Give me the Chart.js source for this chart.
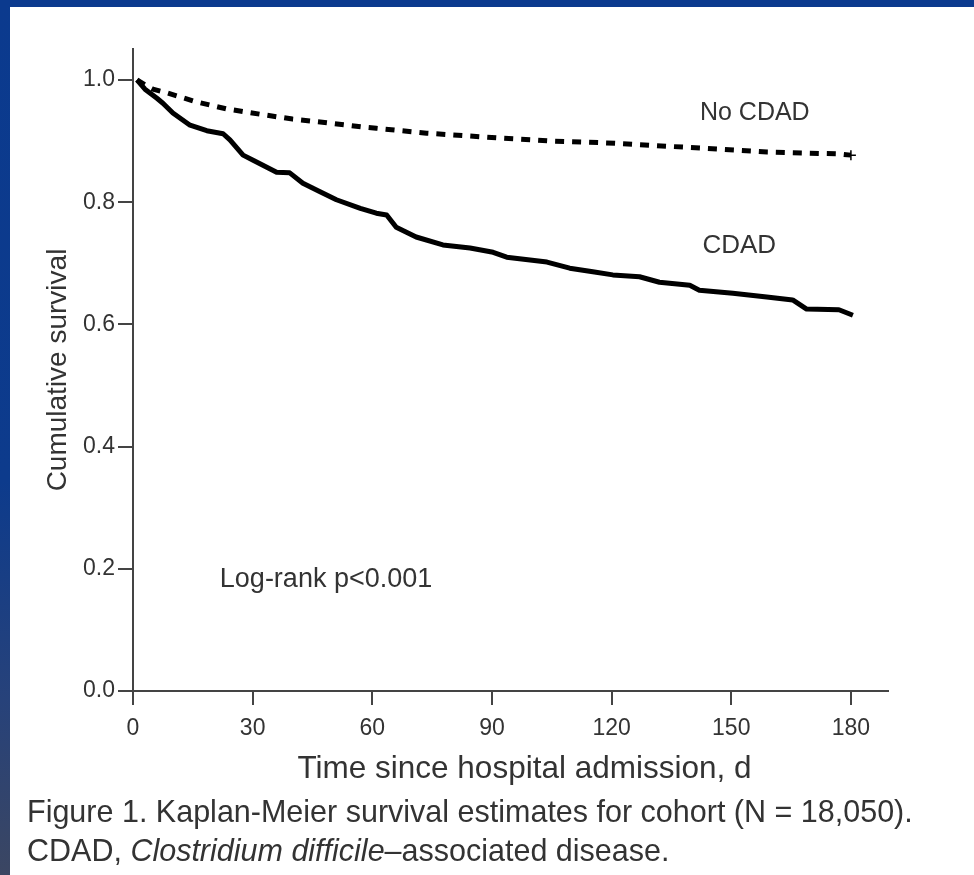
<!DOCTYPE html>
<html><head><meta charset="utf-8">
<script src="https://cdn.jsdelivr.net/npm/chart.js@4.4.1/dist/chart.umd.min.js"></script>
<style>
html,body{margin:0;padding:0;}
body{width:974px;height:875px;overflow:hidden;position:relative;background:linear-gradient(to bottom,#0b3a8e 0%,#0d3b8c 55%,#27427a 80%,#3b4662 100%);font-family:"Liberation Sans",Arial,sans-serif;}
#panel{position:absolute;left:10px;top:7px;right:0;bottom:0;background:#fff;}
#c{position:absolute;left:0;top:0;}
#caption{position:absolute;left:27px;top:792px;font-size:30.5px;line-height:39px;color:#333;white-space:nowrap;}
</style></head>
<body>
<div id="panel"></div>
<canvas id="c" width="974" height="875"></canvas>
<div id="caption">Figure 1. Kaplan-Meier survival estimates for cohort (N = 18,050).<br>CDAD, <i>Clostridium difficile</i>–associated disease.</div>
<script>
// Data (days since admission, cumulative survival)
const cdadDays = [1, 3, 6, 7.5, 10, 14.3, 18.5, 22.6, 24.3, 27.6, 30, 36, 39.3, 42.6, 46.9, 51, 57, 61, 63.6, 66, 71, 77.7, 84.5, 90.3, 93.7, 103.8, 109.5, 115.3, 120.3, 127, 132, 139.6, 142, 150.4, 158.9, 165.4, 168.9, 177, 180.5];
const cdadSurv = [1.0, 0.985, 0.970, 0.962, 0.946, 0.926, 0.917, 0.912, 0.902, 0.877, 0.869, 0.849, 0.848, 0.831, 0.817, 0.804, 0.790, 0.782, 0.779, 0.759, 0.743, 0.730, 0.725, 0.718, 0.710, 0.702, 0.692, 0.686, 0.681, 0.678, 0.669, 0.664, 0.656, 0.651, 0.645, 0.640, 0.625, 0.624, 0.615];
const noCdadDays = [1, 3, 5, 8.5, 16, 23.6, 31.8, 40, 48.6, 57.6, 61, 73.6, 92, 105, 118.8, 141, 159, 177, 180];
const noCdadSurv = [1.0, 0.992, 0.985, 0.979, 0.964, 0.9525, 0.944, 0.936, 0.930, 0.923, 0.921, 0.913, 0.905, 0.900, 0.897, 0.889, 0.882, 0.879, 0.877];
const xTickValues = [0, 30, 60, 90, 120, 150, 180];
const xTickLabels = ['0', '30', '60', '90', '120', '150', '180'];
const yTickValues = [0, 0.2, 0.4, 0.6, 0.8, 1.0];
const yTickLabels = ['0.0', '0.2', '0.4', '0.6', '0.8', '1.0'];
const groupLabels = ['No CDAD', 'CDAD'];
const xAxisTitle = 'Time since hospital admission, d';
const yAxisTitle = 'Cumulative survival';

const FONT = '"Liberation Sans", Arial, sans-serif';
const toPts = (xs, ys) => xs.map((x, i) => ({x: x, y: ys[i]}));

const textPlugin = {
  id: 'textLabels',
  afterDraw(chart, args, opts) {
    const ctx = chart.ctx, xs = chart.scales.x, ys = chart.scales.y;
    ctx.save();
    ctx.fillStyle = opts.color;
    ctx.textAlign = 'center';
    ctx.textBaseline = 'middle';
    opts.items.forEach(it => {
      ctx.font = it.size + 'px ' + FONT;
      ctx.fillText(it.text, xs.getPixelForValue(it.x), ys.getPixelForValue(it.y));
    });
    // x-axis title, centred slightly right of the plot centre as in the original
    ctx.font = opts.xTitleSize + 'px ' + FONT;
    ctx.fillText(xAxisTitle, (xs.left + xs.right) / 2 + opts.xTitleShift, xs.top + opts.xTitleDrop);
    ctx.restore();
  }
};

new Chart(document.getElementById('c'), {
  type: 'line',
  data: {
    datasets: [
      {label: groupLabels[0], data: toPts(noCdadDays, noCdadSurv), borderColor: '#000', borderWidth: 5, borderDash: [9, 8],
       pointStyle: 'cross', pointRadius: noCdadDays.map((d, i) => i === noCdadDays.length - 1 ? 5 : 0),
       pointBorderWidth: 1.5, pointBorderColor: '#000', tension: 0, fill: false},
      {label: groupLabels[1], data: toPts(cdadDays, cdadSurv), borderColor: '#000', borderWidth: 5,
       pointRadius: 0, tension: 0, fill: false, borderJoinStyle: 'round'}
    ]
  },
  options: {
    responsive: false, animation: false, devicePixelRatio: 1,
    layout: {padding: {left: 0, top: 49, right: 86, bottom: 0}},
    plugins: {
      legend: {display: false}, tooltip: {enabled: false},
      textLabels: {color: '#333', xTitleSize: 31.5, xTitleShift: 14, xTitleDrop: 78, items: [
        {text: groupLabels[0], x: 155.9, y: 0.946, size: 25},
        {text: groupLabels[1], x: 152, y: 0.728, size: 26},
        {text: 'Log-rank p<0.001', x: 48.4, y: 0.182, size: 27}
      ]}
    },
    scales: {
      x: {
        type: 'linear', min: 0, max: 189.3,
        afterBuildTicks: s => { s.ticks = xTickValues.map(v => ({value: v})); },
        afterFit: s => { s.height = 875 - 691; },
        ticks: {callback: (v, i) => xTickLabels[i], font: {family: FONT, size: 23}, color: '#333', padding: 10, maxRotation: 0, autoSkip: false},
        grid: {drawOnChartArea: false, drawTicks: true, tickLength: 14, color: '#444', lineWidth: 2},
        border: {display: true, color: '#444', width: 2},
        title: {display: false, text: xAxisTitle}
      },
      y: {
        type: 'linear', min: 0, max: 1.0507,
        afterBuildTicks: s => { s.ticks = yTickValues.map(v => ({value: v})); },
        afterFit: s => { s.width = 133; },
        ticks: {callback: (v, i) => yTickLabels[i], font: {family: FONT, size: 23}, color: '#333', padding: 3},
        grid: {drawOnChartArea: false, drawTicks: true, tickLength: 15, color: '#444', lineWidth: 2},
        border: {display: true, color: '#444', width: 2},
        title: {display: true, text: yAxisTitle, font: {family: FONT, size: 28}, color: '#333', padding: {top: 41, bottom: 0}}
      }
    }
  },
  plugins: [textPlugin]
});
</script>
</body></html>
